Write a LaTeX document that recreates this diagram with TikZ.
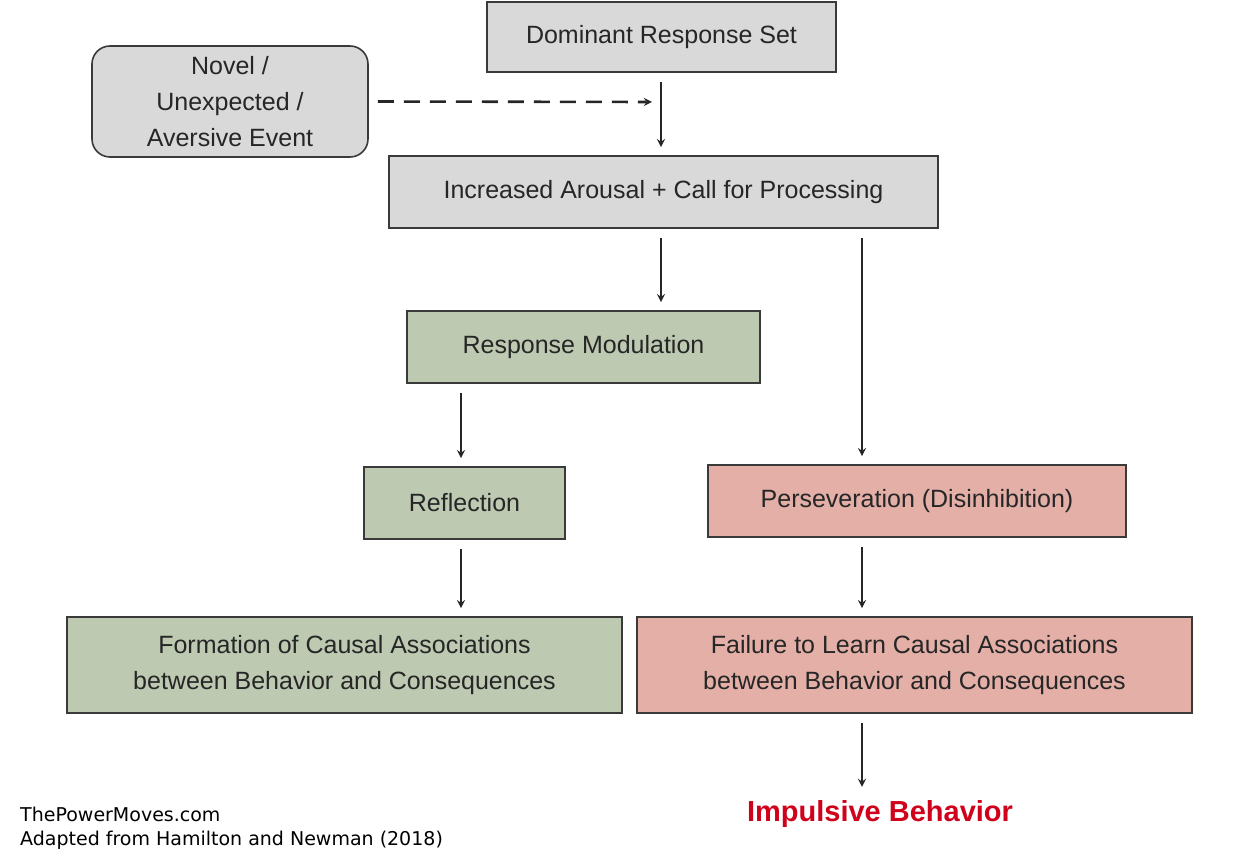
\documentclass[tikz,border=0pt]{standalone}
\usepackage{fontspec}
\setmainfont{Liberation Sans}
\newfontfamily\footfont{DejaVu Sans}
\usetikzlibrary{positioning, arrows}
\definecolor{boxGray}{HTML}{D9D9D9}
\definecolor{boxGreen}{HTML}{BDC9B1}
\definecolor{boxRed}{HTML}{E3AFA7}
\definecolor{lineDark}{HTML}{3A3A3A}
\definecolor{impRed}{HTML}{D0021B}
\tikzstyle{box}=[draw=lineDark, line width=1.6pt, minimum height=72pt, align=center, font=\fontsize{25}{36}\selectfont, text=black!85]
\tikzstyle{grayBox}=[box, fill=boxGray]
\tikzstyle{greenBox}=[box, fill=boxGreen]
\tikzstyle{redBox}=[box, fill=boxRed]
\tikzstyle{arrow}=[->, >=stealth, line width=2.6pt, draw=black!85, shorten <=9pt, shorten >=8pt]
\tikzstyle{footLabel}=[anchor=west, font=\footfont\fontsize{19}{22}\selectfont, inner sep=0pt]
\begin{document}
\begin{tikzpicture}[x=1pt, y=-1pt]
  \useasboundingbox (0,0) rectangle (1248,866);
  \node[grayBox, minimum width=349pt, minimum height=70pt] (dominant) at (661.5,37) {Dominant Response Set};
  \node[grayBox, rounded corners=18pt, minimum width=276pt, minimum height=111pt] (novel) at (230,101.5) {Novel /\\Unexpected /\\Aversive Event};
  \node[grayBox, minimum width=549pt] (arousal) at (663.5,192) {Increased Arousal + Call for Processing};
  \node[greenBox, minimum width=353pt] (modulation) at (583.5,347) {Response Modulation};
  \node[greenBox, minimum width=201pt] (reflection) at (464.5,503) {Reflection};
  \node[redBox, minimum width=418pt] (persev) at (917,501) {Perseveration (Disinhibition)};
  \node[greenBox, minimum width=555pt, minimum height=96pt] (formation) at (344.5,665) {Formation of Causal Associations\\between Behavior and Consequences};
  \node[redBox, minimum width=555pt, minimum height=96pt] (failure) at (914.5,665) {Failure to Learn Causal Associations\\between Behavior and Consequences};
  \node[text=impRed, font=\bfseries\fontsize{29}{34}\selectfont] (impulsive) at (880,814) {Impulsive Behavior};
  \node[footLabel] (site) at (20,814) {ThePowerMoves.com};
  \node[footLabel] (source) at (20,840) {Adapted from Hamilton and Newman (2018)};
  \coordinate (dashEnd) at (652,102);

  \draw[arrow] (dominant.south -| 661,0) -- (arousal.north -| 661,0);
  \draw[arrow, dashed, dash pattern=on 16pt off 10pt, shorten >=0pt] (novel.east) -- (dashEnd);
  \draw[arrow] (arousal.south -| 661,0) -- (modulation.north -| 661,0);
  \draw[arrow] (arousal.south -| 862,0) -- (persev.north -| 862,0);
  \draw[arrow] (modulation.south -| 461,0) -- (reflection.north -| 461,0);
  \draw[arrow] (reflection.south -| 461,0) -- (formation.north -| 461,0);
  \draw[arrow] (persev.south -| 862,0) -- (failure.north -| 862,0);
  \draw[arrow, shorten >=10pt] (failure.south -| 862,0) -- (impulsive.north -| 862,0);
\end{tikzpicture}
\end{document}
